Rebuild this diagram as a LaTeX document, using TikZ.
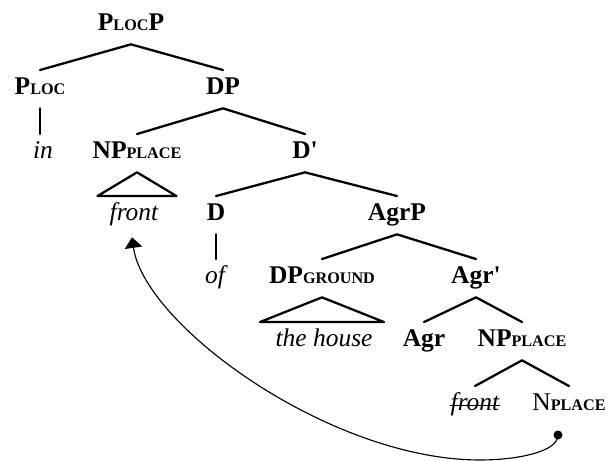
\documentclass[tikz,border=0pt]{standalone}
\usepackage{fontspec}
\setmainfont{Liberation Serif}
\usetikzlibrary{arrows.meta,calc}
\newcommand{\feat}[1]{{\fontsize{9.2pt}{11pt}\selectfont #1}}
\newcommand{\prm}{\textquotesingle}
\begin{document}
\begin{tikzpicture}[line cap=round,line join=round,>=latex,
  cat/.style={font=\fontsize{14.5pt}{17pt}\selectfont\bfseries,anchor=base,
    text height=10pt,text depth=3.4pt,inner ysep=4pt,inner xsep=0pt},
  word/.style={cat,font=\fontsize{14.5pt}{17pt}\selectfont\itshape},
  branch/.style={line width=1.3pt},
  trace/.style={line width=0.65pt,-{Triangle[width=10pt,length=6pt]}}]
  \useasboundingbox (0,0) rectangle (12.2,9.22);
  % categories and words, row by row
  \node[cat] (plocp) at (2.62,8.60) {P\feat{LOC}P};
  \node[cat] (ploc) at (0.80,7.32) {P\feat{LOC}};
  \node[cat] (dp) at (4.46,7.32) {DP};
  \node[word] (in) at (0.86,6.04) {in};
  \node[cat] (np) at (2.74,6.04) {NP\feat{PLACE}};
  \node[cat] (dbar) at (6.10,6.04) {D\prm};
  \node[word] (front) at (2.68,4.80) {front};
  \node[cat] (d) at (4.32,4.80) {D};
  \node[cat] (agrp) at (7.94,4.80) {AgrP};
  \node[word] (of) at (4.30,3.54) {of};
  \node[cat] (dpg) at (6.44,3.54) {DP\feat{GROUND}};
  \node[cat] (agrbar) at (9.52,3.54) {Agr\prm};
  \node[word] (house) at (6.48,2.28) {the house};
  \node[cat] (agr) at (8.48,2.28) {Agr};
  \node[cat] (np2) at (10.44,2.28) {NP\feat{PLACE}};
  \node[word] (front2) at (9.50,1.00) {front};
  \node[cat] (nplace) at (11.38,1.00) {{\mdseries N}\feat{PLACE}};
  % struck-out copy
  \draw[line width=0.5pt] ($(front2.base west)+(0,0.12)$) -- ($(front2.base east)+(0,0.12)$);
  % branches
  \draw[branch] (ploc.north) -- (plocp.south) -- (dp.north);
  \draw[branch] (ploc.south) -- (ploc.south|-in.north);
  \draw[branch] (np.north) -- (dp.south) -- (dbar.north);
  \draw[branch] (np.south) -- ($(np.south|-front.north)+(-0.79,0)$)
    -- ($(np.south|-front.north)+(0.79,0)$) -- cycle;
  \draw[branch] (d.north) -- (dbar.south) -- (agrp.north);
  \draw[branch] (d.south) -- (d.south|-of.north);
  \draw[branch] (dpg.north) -- (agrp.south) -- (agrbar.north);
  \draw[branch] (dpg.south) -- ($(dpg.south|-house.north)+(-1.24,0)$)
    -- ($(dpg.south|-house.north)+(1.24,0)$) -- cycle;
  \draw[branch] (agr.north) -- (agrbar.south) -- (np2.north);
  \draw[branch] (front2.north) -- (np2.south) -- (nplace.north);
  % movement
  \coordinate (trace) at ($(nplace.base)+(-0.22,-0.48)$);
  \coordinate (bend) at (9.6,0.02);
  \coordinate (tip) at ($(front.south)+(-0.04,-0.06)$);
  \fill (trace) circle (0.09);
  \draw[trace] (trace) .. controls +(0,-0.35) and +(0.7,0) .. (bend)
    .. controls +(-3,0) and +(0.25,-1.76) .. (tip);
\end{tikzpicture}
\end{document}
